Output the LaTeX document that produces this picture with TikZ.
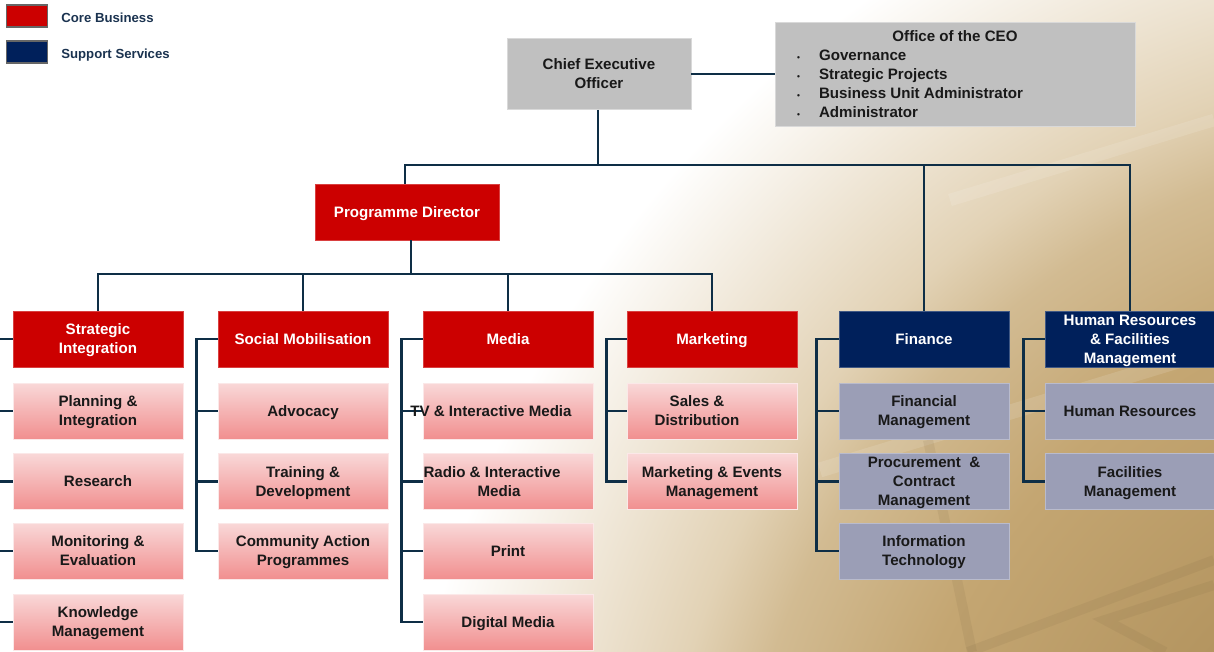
\documentclass[tikz,border=0pt]{standalone}
\usepackage{fontspec}
\setmainfont{Liberation Sans}
\usetikzlibrary{positioning}

\definecolor{corered}{RGB}{204,0,0}
\definecolor{supnavy}{RGB}{0,32,91}
\definecolor{subgray}{RGB}{155,158,182}
\definecolor{ceogray}{RGB}{192,192,192}
\definecolor{linenavy}{RGB}{14,46,70}
\definecolor{pinktop}{RGB}{249,216,216}
\definecolor{pinkbot}{RGB}{241,143,143}
\definecolor{legtext}{RGB}{27,51,80}
\definecolor{tanA}{RGB}{180,149,96}
\definecolor{tanB}{RGB}{196,166,114}
\definecolor{tanC}{RGB}{210,187,146}
\definecolor{tanD}{RGB}{226,210,181}
\definecolor{tanE}{RGB}{239,230,214}

\pgfdeclareradialshading{bgtan}{\pgfpoint{0bp}{0bp}}{color(0bp)=(tanA); color(215bp)=(tanA); color(350bp)=(tanB); color(435bp)=(tanC); color(480bp)=(tanD); color(545bp)=(tanE); color(625bp)=(white); color(700bp)=(white)}

\newcommand\boxfont{\fontsize{8.6}{10.8}\selectfont\bfseries}

\tikzset{
  unit/.style={minimum width=3.4cm, minimum height=1.12cm, inner sep=0pt, align=center, font=\boxfont, text depth=0pt},
  headcore/.style={unit, fill=corered, draw=corered!75!white, text=white},
  subcore/.style={unit, top color=pinktop, bottom color=pinkbot, draw=pinktop!60!white, text=black!90},
  headsup/.style={unit, fill=supnavy, draw=supnavy!75!white, text=white},
  subsup/.style={unit, fill=subgray, draw=subgray!70!white, text=black!90},
  topbox/.style={unit, fill=ceogray, draw=ceogray!60!white, text=black!90},
  subtxt/.style={font=\boxfont, align=center, inner sep=0pt, text=black!90, text depth=0pt},
  link/.style={draw=linenavy, line width=1.4pt},
  legbox/.style={minimum width=0.82cm, minimum height=0.44cm, inner sep=0pt, draw=black!60, line width=0.6pt},
  legtxt/.style={font=\fontsize{7.5}{9}\selectfont\bfseries, text=legtext, inner sep=0pt, anchor=west},
  streak/.style={draw=tanA!70!black, opacity=0.12, line width=0.2cm},
}

\begin{document}
\begin{tikzpicture}[x=0.02cm, y=-0.02cm]
\useasboundingbox (0,0) rectangle (1214,652);

% background
\begin{scope}
\clip (0,0) rectangle (1214,652);
\fill[white] (0,0) rectangle (1214,652);
\node[inner sep=0pt] (bgshade) at (1500,900) {\pgfuseshading{bgtan}};
\draw[white, opacity=0.12, line width=0.3cm] (820,470) -- (1214,350);
\draw[white, opacity=0.12, line width=0.25cm] (950,200) -- (1214,120);
\draw[streak] (928,440) -- (972,652);
\draw[streak] (968,652) -- (1214,560);
\draw[streak] (1214,585) -- (1105,620) -- (1165,652);
\end{scope}

% legend
\node[legbox, fill=corered] (legcore) at (27,16) {};
\node[legtxt] (legcoretxt) at (61,18) {Core Business};
\node[legbox, fill=supnavy] (legsup) at (27,52) {};
\node[legtxt] (legsuptxt) at (61,55) {Support Services};

% top
\node[topbox, minimum width=3.68cm, minimum height=1.42cm] (ceo) at (599,74) {Chief Executive\\Officer};
\node[topbox, minimum width=7.2cm, minimum height=2.08cm] (office) at (955,74)
  {Office of the CEO\\
   \makebox[7.2cm][l]{\hspace*{0.44cm}\makebox[0.44cm][l]{\scalebox{0.55}{\textbullet}}Governance}\\
   \makebox[7.2cm][l]{\hspace*{0.44cm}\makebox[0.44cm][l]{\scalebox{0.55}{\textbullet}}Strategic Projects}\\
   \makebox[7.2cm][l]{\hspace*{0.44cm}\makebox[0.44cm][l]{\scalebox{0.55}{\textbullet}}Business Unit Administrator}\\
   \makebox[7.2cm][l]{\hspace*{0.44cm}\makebox[0.44cm][l]{\scalebox{0.55}{\textbullet}}Administrator}};
\node[headcore, minimum width=3.68cm] (pd) at (407,212) {Programme Director};

% heads
\node[headcore] (strat) at (98,339) {Strategic\\Integration};
\node[headcore] (soc) at (303,339) {Social Mobilisation};
\node[headcore] (media) at (508,339) {Media};
\node[headcore] (mkt) at (712,339) {Marketing};
\node[headsup] (fin) at (924,339) {Finance};
\node[headsup] (hr) at (1130,339) {Human Resources\\\& Facilities\\Management};

% strategic integration
\node[subcore] (plan) at (98,411) {Planning \&\\Integration};
\node[subcore] (research) at (98,481.5) {Research};
\node[subcore] (monitor) at (98,551) {Monitoring \&\\Evaluation};
\node[subcore] (knowledge) at (98,622) {Knowledge\\Management};

% social mobilisation
\node[subcore] (advocacy) at (303,411) {Advocacy};
\node[subcore] (training) at (303,481.5) {Training \&\\Development};
\node[subcore] (community) at (303,551) {Community Action\\Programmes};

% media
\node[subcore] (tv) at (508,411) {};
\node[subcore] (radio) at (508,481.5) {};
\node[subcore] (print) at (508,551) {Print};
\node[subcore] (digital) at (508,622) {Digital Media};

% marketing
\node[subcore] (sales) at (712,411) {};
\node[subcore] (events) at (712,481.5) {Marketing \& Events\\Management};

% finance
\node[subsup] (finmgmt) at (924,411) {Financial\\Management};
\node[subsup] (procure) at (924,481.5) {Procurement\ \ \&\\Contract\\Management};
\node[subsup] (it) at (924,551) {Information\\Technology};

% human resources
\node[subsup] (hrsub) at (1130,411) {Human Resources};
\node[subsup] (facil) at (1130,481.5) {Facilities\\Management};

% connectors
\coordinate (topbus) at (598,165);
\coordinate (midbus) at (411,274);
\draw[link] (ceo) -- (office);
\draw[link] (topbus |- ceo.south) -- (topbus);
\draw[link] (pd.north -| 405,0) |- (hr.north |- topbus) -- (hr.north);
\draw[link] (fin.north) -- (fin.north |- topbus);
\draw[link] (midbus |- pd.south) -- (midbus);
\draw[link] (strat.north) |- (mkt.north |- midbus) -- (mkt.north);
\draw[link] (soc.north) -- (soc.north |- midbus);
\draw[link] (media.north) -- (media.north |- midbus);

\draw[link] (strat.west) -- ++(-21,0) |- (knowledge.west);
\draw[link] (plan.west) -- ++(-21,0);
\draw[link] (research.west) -- ++(-21,0);
\draw[link] (monitor.west) -- ++(-21,0);

\draw[link] (soc.west) -- ++(-21,0) |- (community.west);
\draw[link] (advocacy.west) -- ++(-21,0);
\draw[link] (training.west) -- ++(-21,0);

\draw[link] (media.west) -- ++(-21,0) |- (digital.west);
\draw[link] (tv.west) -- ++(-21,0);
\draw[link] (radio.west) -- ++(-21,0);
\draw[link] (print.west) -- ++(-21,0);

\draw[link] (mkt.west) -- ++(-20,0) |- (events.west);
\draw[link] (sales.west) -- ++(-20,0);

\draw[link] (fin.west) -- ++(-22,0) |- (it.west);
\draw[link] (finmgmt.west) -- ++(-22,0);
\draw[link] (procure.west) -- ++(-22,0);

\draw[link] (hr.west) -- ++(-21,0) |- (facil.west);
\draw[link] (hrsub.west) -- ++(-21,0);

% labels that run off their boxes
\node[subtxt] (tvtxt) at (491,411) {TV \& Interactive Media};
\node[subtxt] (radiotxt) at (492,481.5) {Radio \& Interactive\\\hspace*{0.28cm}Media};
\node[subtxt] (salestxt) at (697,411) {Sales \&\\Distribution};
\end{tikzpicture}
\end{document}
